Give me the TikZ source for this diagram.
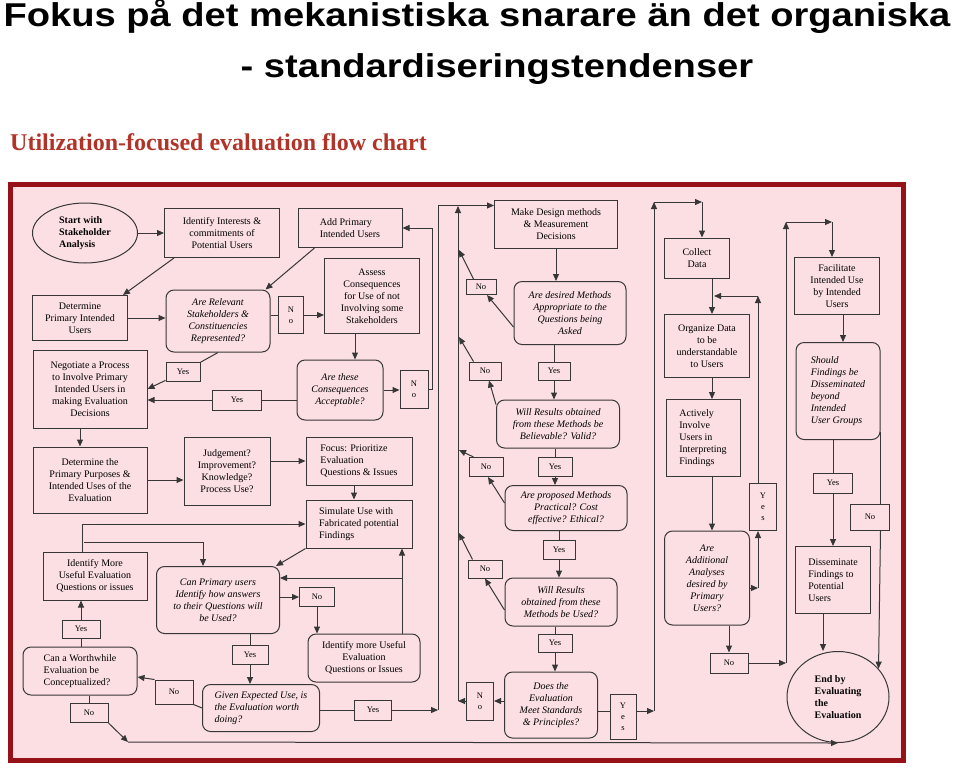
\documentclass[tikz,border=0pt]{standalone}
\usepackage{fontspec}
\setmainfont{Liberation Serif}
\newfontfamily\headfont{Liberation Sans}
\usetikzlibrary{shapes.geometric, arrows.meta, calc}
\definecolor{framered}{RGB}{150,18,24}
\definecolor{framepink}{RGB}{251,223,227}
\definecolor{linegray}{RGB}{55,55,55}
\definecolor{subred}{RGB}{178,52,40}

\begin{document}
\begin{tikzpicture}[x=1pt, y=-1pt,
        sz/.style 2 args={minimum width=#1pt, minimum height=#2pt},
        proc/.style={rectangle, draw=linegray, line width=1pt, align=center, font=\fontsize{10}{12}\selectfont, inner sep=2pt},
        rnd/.style={proc, rounded corners=8pt},
        dec/.style={rnd, font=\fontsize{10}{12}\selectfont\itshape},
        term/.style={ellipse, draw=linegray, line width=1pt, align=left, font=\fontsize{10}{12}\selectfont\bfseries, inner sep=0pt},
        lab/.style={rectangle, draw=linegray, line width=1pt, align=center, inner sep=0pt, font=\fontsize{8.5}{11}\selectfont},
        arr/.style={-{Triangle[length=7pt, width=6pt]}, line width=1pt, draw=linegray},
        ln/.style={line width=1pt, draw=linegray},
        head/.style={font=\headfont\bfseries\fontsize{33}{38}\selectfont, anchor=base, inner sep=0pt, xscale=1.155}
    ]
        \useasboundingbox (0,0) rectangle (960,782);

        % Headings
        \node[head] (title) at (477,26) {Fokus på det mekanistiska snarare än det organiska};
        \node[head] (title2) at (497,77) {- standardiseringstendenser};
        \node[font=\bfseries\fontsize{24}{28}\selectfont, text=subred, anchor=base west, inner sep=0pt] (subtitle) at (10,150) {Utilization-focused evaluation flow chart};

        % Frame
        \draw[line width=5pt, draw=framered, fill=framepink] (10.5,184.5) rectangle (903.5,760.5);

        % Stakeholder column
        \node[term, sz={105}{60}] (start) at (85,233) {Start with\\Stakeholder\\Analysis};
        \node[proc, sz={115}{49}] (interests) at (222,233) {Identify Interests \&\\commitments of\\Potential Users};
        \node[proc, sz={104}{39}, align=left] (addusers) at (350,228) {Add Primary\\Intended Users};
        \node[proc, sz={95}{45}] (detusers) at (80,318) {Determine\\Primary Intended\\Users};
        \node[dec, sz={104}{62}] (relevant) at (218,321) {Are Relevant\\Stakeholders \&\\Constituencies\\Represented?};
        \node[lab, sz={25}{37}] (no1) at (291,315) {N\\o};
        \node[proc, sz={95}{75}] (assess) at (372,296) {Assess\\Consequences\\for Use of not\\Involving some\\Stakeholders};
        \node[proc, sz={114}{78}] (negotiate) at (90,389) {Negotiate a Process\\to Involve Primary\\Intended Users in\\making Evaluation\\Decisions};
        \node[lab, sz={34}{19}] (yes1) at (183,372) {Yes};
        \node[dec, sz={86}{60}] (accept) at (340,390) {Are these\\Consequences\\Acceptable?};
        \node[lab, sz={28}{38}] (no2) at (414,389) {N\\o};
        \node[lab, sz={49}{20}] (yes2) at (237,400) {Yes};
        \node[proc, sz={114}{66}] (purposes) at (90,480) {Determine the\\Primary Purposes \&\\Intended Uses of the\\Evaluation};
        \node[proc, sz={86}{68}] (judgement) at (227,471) {Judgement?\\Improvement?\\Knowledge?\\Process Use?};
        \node[proc, sz={106}{48}, align=left] (focus) at (359,461) {Focus: Prioritize\\Evaluation\\Questions \& Issues};
        \node[proc, sz={106}{48}, align=left] (simulate) at (359,524) {Simulate Use with\\Fabricated potential\\Findings};
        \node[proc, sz={104}{48}] (identmore) at (95,576) {Identify More\\Useful Evaluation\\Questions or issues};
        \node[dec, sz={123}{67}] (canprimary) at (218,600) {Can Primary users\\Identify how answers\\to their Questions will\\be Used?};
        \node[lab, sz={35}{19}] (no3) at (317,597) {No};
        \node[rnd, sz={112}{48}] (identuseful) at (364,658) {Identify more Useful\\Evaluation\\Questions or Issues};
        \node[lab, sz={38}{18}] (yes3) at (81,629) {Yes};
        \node[rnd, sz={114}{48}, align=left] (worthwhile) at (80,671) {Can a Worthwhile\\Evaluation be\\Conceptualized?};
        \node[lab, sz={36}{19}] (yes4) at (250,655) {Yes};
        \node[lab, sz={38}{24}] (no4) at (174,692) {No};
        \node[dec, sz={117}{47}, align=left] (worth) at (261,708) {Given Expected Use, is\\the Evaluation worth\\doing?};
        \node[lab, sz={38}{19}] (no5) at (89,713) {No};
        \node[lab, sz={37}{20}] (yes5) at (373,710) {Yes};

        % Methods column
        \node[proc, sz={123}{48}] (design) at (556,224) {Make Design methods\\\& Measurement\\Decisions};
        \node[dec, sz={112}{63}] (appropriate) at (570,313) {Are desired Methods\\Appropriate to the\\Questions being\\Asked};
        \node[lab, sz={30}{15}] (no6) at (481,287) {No};
        \node[lab, sz={32}{18}] (no7) at (485,371) {No};
        \node[lab, sz={32}{18}] (yes6) at (554,371) {Yes};
        \node[dec, sz={123}{48}] (believable) at (558,424) {Will Results obtained\\from these Methods be\\Believable? Valid?};
        \node[lab, sz={34}{19}] (no8) at (486,467) {No};
        \node[lab, sz={34}{19}] (yes7) at (555,467) {Yes};
        \node[dec, sz={122}{45}] (practical) at (566,508) {Are proposed Methods\\Practical? Cost\\effective? Ethical?};
        \node[lab, sz={32}{19}] (yes8) at (559,550) {Yes};
        \node[lab, sz={34}{18}] (no9) at (485,569) {No};
        \node[dec, sz={112}{48}] (used) at (561,602) {Will Results\\obtained from these\\Methods be Used?};
        \node[lab, sz={34}{18}] (yes9) at (555,643) {Yes};
        \node[dec, sz={93}{66}] (standards) at (551,705) {Does the\\Evaluation\\Meet Standards\\\& Principles?};
        \node[lab, sz={27}{38}] (no10) at (480,701) {N\\o};
        \node[lab, sz={26}{45}] (yes10) at (623,717) {Y\\e\\s};

        % Data column
        \node[proc, sz={65}{40}] (collect) at (697,258) {Collect\\Data};
        \node[proc, sz={85}{63}] (organize) at (707,346) {Organize Data\\to be\\understandable\\to Users};
        \node[proc, sz={74}{77}, align=left] (involve) at (703,438) {Actively\\Involve\\Users in\\Interpreting\\Findings};
        \node[dec, sz={85}{94}] (additional) at (707,578) {Are\\Additional\\Analyses\\desired by\\Primary\\Users?};
        \node[lab, sz={27}{47}] (yes11) at (763,507) {Y\\e\\s};
        \node[lab, sz={38}{20}] (no11) at (729,663) {No};

        % Use column
        \node[proc, sz={85}{57}] (facilitate) at (837,286) {Facilitate\\Intended Use\\by Intended\\Users};
        \node[dec, sz={84}{97}, align=left] (should) at (838,391) {Should\\Findings be\\Disseminated\\beyond\\Intended\\User Groups};
        \node[lab, sz={39}{20}] (yes12) at (833,483) {Yes};
        \node[lab, sz={39}{26}] (no12) at (870,517) {No};
        \node[proc, sz={75}{67}, align=left] (disseminate) at (833,580) {Disseminate\\Findings to\\Potential\\Users};
        \node[term, sz={102}{91}] (endev) at (838,697) {End by\\Evaluating\\the\\Evaluation};

        % Junctions
        \coordinate (jn2) at (84,542);
        \coordinate (jn3) at (402,578);
        \coordinate (jn4) at (128,742);
        \coordinate (jn5) at (438,710);
        \coordinate (jn6) at (458,701);
        \coordinate (jn7) at (458,206);
        \coordinate (jn8) at (654,711);
        \coordinate (jn9) at (654,202);
        \coordinate (jn10) at (702,202);
        \coordinate (jn11) at (758,296);
        \coordinate (jn12) at (714,296);
        \coordinate (jn13) at (758,588);
        \coordinate (jn14) at (786,663);
        \coordinate (jn15) at (786,222);
        \coordinate (jn16) at (832,222);
        \coordinate (r1) at (459,250);
        \coordinate (r2) at (459,337);
        \coordinate (r3) at (459,450);
        \coordinate (r4) at (459,533);

        % Stakeholder connectors
        \draw[arr] (start) -- (interests);
        \draw[arr] ([xshift=10pt]interests.south west) -- ([xshift=-5pt]detusers.north east);
        \draw[arr] ([xshift=17pt]addusers.south west) -- ([xshift=-5pt]relevant.north east);
        \draw[arr] (detusers.east) -- (detusers.east -| relevant.west);
        \draw[ln] (no1.west -| relevant.east) -- (no1.west);
        \draw[arr] (no1.east) -- (no1.east -| assess.west);
        \draw[arr] ([xshift=-17pt]assess.south) -- ([xshift=-17pt]assess.south |- accept.north);
        \draw[ln] (relevant.south) -- (yes1);
        \draw[arr] (yes1) -- (negotiate.east);
        \draw[ln] (accept.west |- yes2) -- (yes2.east);
        \draw[arr] (yes2.west) -- (yes2.west -| negotiate.east);
        \draw[arr] (accept.east) -- (accept.east -| no2.west);
        \draw[arr] (no2.east) -- ++(4,0) |- (addusers.east);
        \draw[arr] ([xshift=-10pt]negotiate.south) -- ([xshift=-10pt]purposes.north);
        \draw[arr] (purposes.east) -- (purposes.east -| judgement.west);
        \draw[arr] (focus.west -| judgement.east) -- (focus.west);
        \draw[arr] ([xshift=-5pt]focus.south) -- ([xshift=-5pt]simulate.north);
        \draw[arr] ([xshift=-13pt]identmore.north) |- (simulate.west);
        \draw[arr] (jn2) -| ([xshift=-15pt]canprimary.north);
        \draw[arr] (simulate.south west) -- ([xshift=-4pt]canprimary.north east);
        \draw[arr] ([xshift=38pt]identuseful.north) -- ([xshift=38pt]identuseful.north |- simulate.south);
        \draw[arr] (jn3) -- (jn3 -| canprimary.east);
        \draw[arr] (canprimary.east |- no3.west) -- (no3.west);
        \draw[arr] (no3.south) -- (no3.south |- identuseful.north);
        \draw[ln] (yes4.north |- canprimary.south) -- (yes4.north);
        \draw[arr] (yes4.south) -- (yes4.south |- worth.north);
        \draw[ln] (worth.west) -- (no4.south east);
        \draw[arr] (no4.north west) -- ([yshift=-6pt]worthwhile.east);
        \draw[ln] (yes3.south |- worthwhile.north) -- (yes3.south);
        \draw[arr] (yes3.north) -- (yes3.north |- identmore.south);
        \draw[ln] (no5.north |- worthwhile.south) -- (no5.north);
        \draw[arr] (no5.south east) -- (jn4);
        \draw[arr] (jn4) -- (endev.south);
        \draw[ln] (worth.east |- yes5) -- (yes5.west);
        \draw[arr] (yes5.east) -- (jn5);
        \draw[arr] (jn5) |- ([yshift=-6pt]design.north west);

        % Methods connectors
        \draw[arr] (design.south) -- (design.south |- appropriate.north);
        \draw[arr] ([yshift=-14pt]appropriate.west) -- ([xshift=6pt]no6.south);
        \draw[arr] ([xshift=8pt]no6.north west) -- (r1);
        \draw[ln] (yes6.north |- appropriate.south) -- (yes6.north);
        \draw[arr] (yes6.south) -- (yes6.south |- believable.north);
        \draw[arr] ([yshift=-5pt]believable.north west) -- ([xshift=4pt]no7.south);
        \draw[arr] ([xshift=5pt]no7.north west) -- (r2);
        \draw[ln] (yes7.north |- believable.south) -- (yes7.north);
        \draw[arr] (yes7.south) -- (yes7.south |- practical.north);
        \draw[arr] ([yshift=5pt]practical.west) -- ([xshift=2pt]no8.south);
        \draw[arr] ([xshift=5pt]no8.north west) -- (r3);
        \draw[ln] (yes8.north |- practical.south) -- (yes8.north);
        \draw[arr] (yes8.south) -- (yes8.south |- used.north);
        \draw[arr] ([yshift=-8pt]used.west) -- (no9.south);
        \draw[arr] ([xshift=5pt]no9.north west) -- (r4);
        \draw[ln] (yes9.north |- used.south) -- (yes9.north);
        \draw[arr] (yes9.south) -- (yes9.south |- standards.north);
        \draw[arr] (standards.west |- no10.east) -- (no10.east);
        \draw[arr] (no10.west) -- (jn6);
        \draw[arr] (jn6) -- (jn7);
        \draw[ln] ([yshift=6pt]yes10.west -| standards.east) -- ([yshift=6pt]yes10.west);
        \draw[arr] ([yshift=6pt]yes10.east) -- (jn8);

        % Data connectors
        \draw[arr] (jn8) -- (jn9);
        \draw[arr] (jn9) -- (jn10);
        \draw[arr] (jn10) -- (jn10 |- collect.north);
        \draw[arr] ([xshift=15pt]collect.south) -- ([xshift=15pt]collect.south |- organize.north);
        \draw[arr] ([xshift=5pt]organize.south) -- ([xshift=5pt]organize.south |- involve.north);
        \draw[arr] ([xshift=9pt]involve.south) -- ([xshift=9pt]involve.south |- additional.north);
        \draw[arr] ([yshift=-10pt]additional.east) -- (jn13);
        \draw[arr] (jn13) -- (jn13 |- yes11.south);
        \draw[arr] (jn13 |- yes11.north) -- (jn11);
        \draw[arr] (jn11) -- (jn12);
        \draw[arr] ([xshift=22pt]additional.south) -- (no11.north);
        \draw[arr] (no11.east) -- (jn14);
        \draw[arr] (jn14) -- (jn15);
        \draw[arr] (jn15) -- (jn16);
        \draw[arr] (jn16) -- (jn16 |- facilitate.north);

        % Use connectors
        \draw[arr] ([xshift=6pt]facilitate.south) -- ([xshift=6pt]facilitate.south |- should.north);
        \draw[ln] (yes12.north |- should.south) -- (yes12.north);
        \draw[arr] (yes12.south) -- (yes12.south |- disseminate.north);
        \draw[ln] ([yshift=8pt]should.south east) -- (should.south east |- no12.north);
        \draw[arr] (should.south east |- no12.south) -- (endev.35);
        \draw[arr] ([xshift=-10pt]disseminate.south) -- ([xshift=-10pt]disseminate.south |- endev.north);
    \end{tikzpicture}
\end{document}
